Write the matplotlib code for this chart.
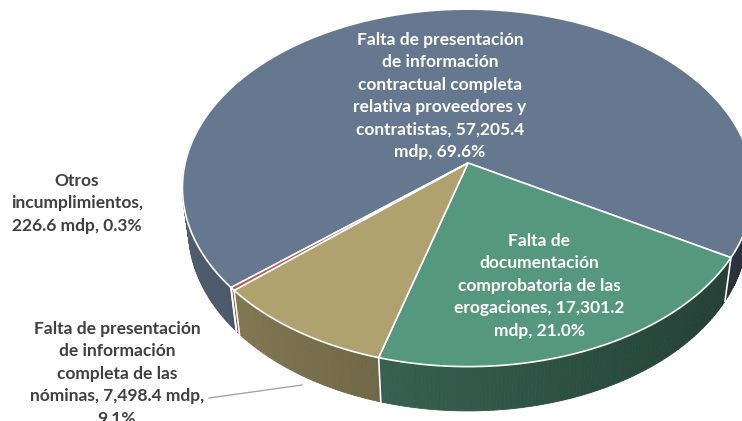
import numpy as np
import matplotlib
matplotlib.use('Agg')
from matplotlib import pyplot as plt
from matplotlib.patches import Polygon

# data: slices clockwise from the start angle
names = ["contractual", "comprobatoria", "nominas", "otros"]
values = [57205.4, 17301.2, 7498.4, 226.6]
label_fmt = [
    "Falta de presentación\nde información\ncontractual completa\nrelativa proveedores y\ncontratistas, {v}\nmdp, {p}",
    "Falta de\ndocumentación\ncomprobatoria de las\nerogaciones, {v}\nmdp, {p}",
    "Falta de presentación\nde información\ncompleta de las\nnóminas, {v} mdp,\n{p}",
    "Otros\nincumplimientos,\n{v} mdp, {p}",
]
top_colors = ["#66788f", "#55977f", "#b0a26f", "#c0504d"]
# --

# layout of the 3d pie (pixel space)
cx, cy = 468, 163
elev = np.radians(38.3)
D = 5.64
f = 1595.
H = 0.196
start = 220.3
# --

def proj(theta, h):
  X = np.cos(theta)
  Yp = np.sin(theta)
  yc = h*np.cos(elev) + Yp*np.sin(elev)
  zc = D + Yp*np.cos(elev) - h*np.sin(elev)
  return cx + f*X/zc, cy - f*yc/zc, zc

def shade(color, theta):
  k = 0.587 + 0.193*(-np.cos(theta))
  rgb = np.array(matplotlib.colors.to_rgb(color))
  return tuple(np.clip(rgb*k, 0, 1))

fig = plt.figure(figsize=(7.42, 4.21), dpi=100)
ax = fig.add_axes([0, 0, 1, 1])
ax.set_xlim(0, 742)
ax.set_ylim(421, 0)
ax.axis('off')

vals = np.array(values)
fracs = vals/vals.sum()
bounds = start - 360*np.concatenate([[0], np.cumsum(fracs)])

# side walls, far to near
quads = []
for i in range(len(vals)):
  a0, a1 = bounds[i], bounds[i+1]
  n = max(2, int(abs(a0 - a1)/0.7))
  th = np.radians(np.linspace(a0, a1, n+1))
  for j in range(n):
    t0, t1 = th[j], th[j+1]
    tm = 0.5*(t0 + t1)
    if np.sin(tm) > 0.15:
      continue
    x0, y0, z0 = proj(t0, 0)
    x1, y1, _ = proj(t1, 0)
    x2, y2, _ = proj(t1, -H)
    x3, y3, _ = proj(t0, -H)
    c = shade(top_colors[i], tm)
    quads.append((z0, [(x0, y0), (x1, y1), (x2, y2), (x3, y3)], c))
quads.sort(key=lambda q: -q[0])
for z, pts, c in quads:
  ax.add_patch(Polygon(pts, closed=True, facecolor=c, edgecolor=c, lw=0.6, zorder=1))

# white seams on the side between slices
for b in bounds:
  t = np.radians(b)
  if np.sin(t) < 0:
    xa, ya, _ = proj(t, 0)
    xb, yb, _ = proj(t, -H)
    ax.plot([xa, xb], [ya, yb], color='white', lw=1.2, zorder=2)

# top faces
for i in range(len(vals)):
  th = np.radians(np.linspace(bounds[i], bounds[i+1], 200))
  xs, ys, _ = proj(th, 0)
  pts = [(cx, cy)] + list(zip(xs, ys))
  ax.add_patch(Polygon(pts, closed=True, facecolor=top_colors[i], edgecolor='white',
                       lw=1.2, joinstyle='round', zorder=3))

# labels
font = dict(family='Lato', weight='bold', fontsize=12.5, ha='center', va='center',
            multialignment='center', linespacing=1.5, zorder=5)
txt = [label_fmt[i].format(v='{:,.1f}'.format(values[i]), p='{:.1f}%'.format(100*fracs[i]))
       for i in range(len(vals))]
ax.text(440, 96, txt[0], color='white', **font)
ax.text(539, 286, txt[1], color='white', **font)
ax.text(117, 374, txt[2], color='#404040', **font)
ax.text(77, 203, txt[3], color='#404040', **font)

# leader line for the nominas slice
ax.plot([209, 302], [398, 385], color='#a6a6a6', lw=1.0, zorder=4)

plt.savefig('out.png', dpi=100)
plt.close('all')
